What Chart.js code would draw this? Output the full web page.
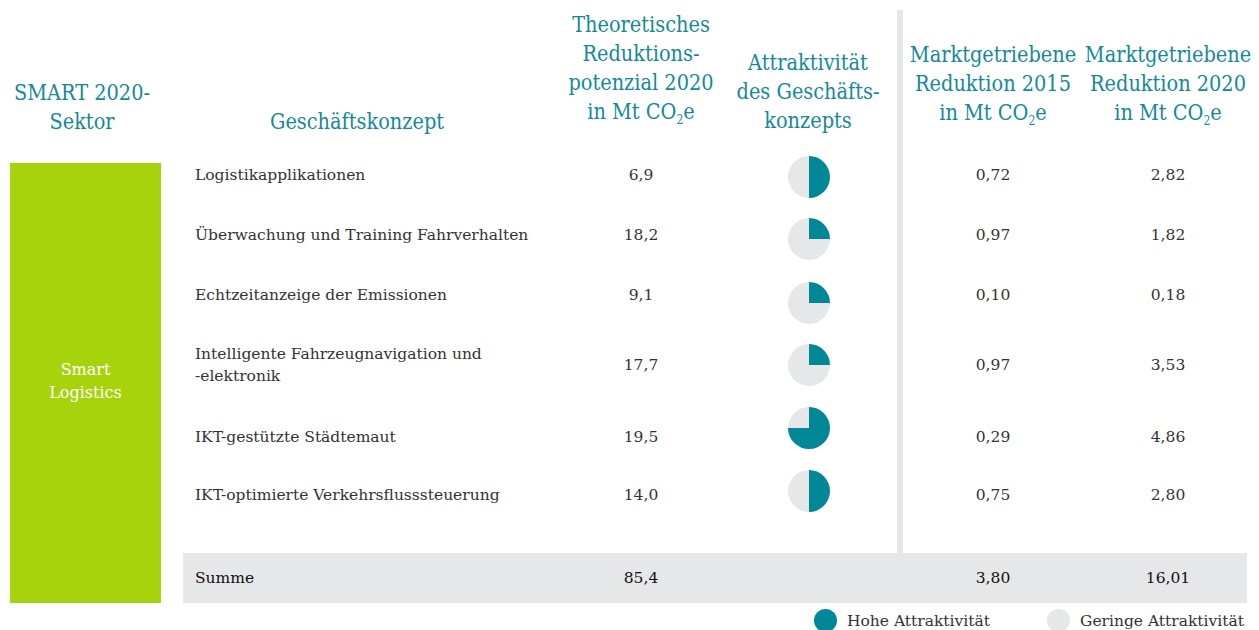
<!DOCTYPE html>
<html lang="de">
<head>
<meta charset="utf-8">
<script src="https://cdn.jsdelivr.net/npm/chart.js@4/dist/chart.umd.min.js"></script>
<style>
  html, body { margin: 0; padding: 0; background: #fff; }
  body { width: 1259px; height: 630px; position: relative; overflow: hidden;
         font-family: "DejaVu Serif", serif; color: #333; }
  .abs { position: absolute; }
  .head { color: #14899a; font-family: "DejaVu Serif Condensed", "DejaVu Serif", serif; font-stretch: condensed;
          font-size: 21.5px; line-height: 29px; text-align: center; white-space: nowrap; }
  .head sub { font-size: 12px; vertical-align: -5px; line-height: 0; }
  .cell { font-size: 15.5px; line-height: 22px; white-space: nowrap; }
  .num { text-align: center; width: 120px; transform: translateY(-50%); }
  .sum { color: #111; }
  .pie { width: 42px; height: 42px; }
</style>
</head>
<body>
<div id="root"></div>
<script>
// Daten
const sektor = 'Smart Logistics';
const konzepte = [
  'Logistikapplikationen',
  'Überwachung und Training Fahrverhalten',
  'Echtzeitanzeige der Emissionen',
  'Intelligente Fahrzeugnavigation und<br>-elektronik',
  'IKT-gestützte Städtemaut',
  'IKT-optimierte Verkehrsflusssteuerung'
];
const potenzial2020 = [6.9, 18.2, 9.1, 17.7, 19.5, 14.0];
// Attraktivität in Vierteln (hoch / gering)
const attraktivHoch = [2, 1, 1, 1, 3, 2];
const attraktivGering = [2, 3, 3, 3, 1, 2];
const markt2015 = [0.72, 0.97, 0.10, 0.97, 0.29, 0.75];
const markt2020 = [2.82, 1.82, 0.18, 3.53, 4.86, 2.80];

const legendLabels = ['Hohe Attraktivität', 'Geringe Attraktivität'];
const TEAL = '#008896';
const GREY = '#e6e7e9';

const rowY = [175, 235, 295, 365, 437, 495];
const pieY = [177, 239, 303, 365, 428, 491];

const fmt = (v, d) => v.toFixed(d).replace('.', ',');
const sum = a => a.reduce((s, v) => s + v, 0);

const root = document.getElementById('root');
function add(html, style, cls) {
  const d = document.createElement('div');
  d.className = 'abs ' + (cls || '');
  d.style.cssText = style;
  d.innerHTML = html;
  root.appendChild(d);
  return d;
}

// Hintergrund: grüner Sektorbalken, Summenband, Trennlinie
add('', 'left:10px;top:163px;width:151px;height:440px;background:#a7d30d;');
add('', 'left:183px;top:553px;width:1064px;height:50px;background:' + GREY + ';');
add('', 'left:897px;top:10px;width:6px;height:543px;background:' + GREY + ';');

// Kopfzeilen
add('SMART 2020-<br>Sektor', 'left:0px;width:164px;top:78px;', 'head');
add('Geschäftskonzept', 'left:257px;width:200px;top:107px;', 'head');
add('Theoretisches<br>Reduktions-<br>potenzial 2020<br>in Mt CO<sub>2</sub>e', 'left:561px;width:160px;top:10px;', 'head');
add('Attraktivität<br>des Geschäfts-<br>konzepts', 'left:728px;width:160px;top:48px;', 'head');
add('Marktgetriebene<br>Reduktion 2015<br>in Mt CO<sub>2</sub>e', 'left:908px;width:170px;top:40px;', 'head');
add('Marktgetriebene<br>Reduktion 2020<br>in Mt CO<sub>2</sub>e', 'left:1083px;width:170px;top:40px;', 'head');

// Sektorbeschriftung
add(sektor.replace(' ', '<br>'), 'left:10px;width:151px;top:358px;color:#fff;text-align:center;font-size:16px;line-height:23px;', 'cell');

// Zeilen
konzepte.forEach((k, i) => {
  add(k, 'left:195px;top:' + rowY[i] + 'px;transform:translateY(-50%);', 'cell');
  add(fmt(potenzial2020[i], 1), 'left:581px;top:' + rowY[i] + 'px;', 'cell num');
  add(fmt(markt2015[i], 2), 'left:933px;top:' + rowY[i] + 'px;', 'cell num');
  add(fmt(markt2020[i], 2), 'left:1108px;top:' + rowY[i] + 'px;', 'cell num');

  const box = add('<canvas></canvas>', 'left:788px;top:' + (pieY[i] - 21) + 'px;', 'pie');
  new Chart(box.querySelector('canvas'), {
    type: 'pie',
    data: {
      labels: legendLabels,
      datasets: [{
        data: [attraktivHoch[i], attraktivGering[i]],
        backgroundColor: [TEAL, GREY],
        borderWidth: 0
      }]
    },
    options: {
      responsive: true,
      maintainAspectRatio: false,
      animation: false,
      events: [],
      plugins: { legend: { display: false }, tooltip: { enabled: false } }
    }
  });
});

// Summe
add('Summe', 'left:195px;top:578px;transform:translateY(-50%);', 'cell sum');
add(fmt(sum(potenzial2020), 1), 'left:581px;top:578px;', 'cell num sum');
add(fmt(sum(markt2015), 2), 'left:933px;top:578px;', 'cell num sum');
add(fmt(sum(markt2020), 2), 'left:1108px;top:578px;', 'cell num sum');

// Legende
add('', 'left:814px;top:609px;width:23px;height:23px;border-radius:50%;background:' + TEAL + ';');
add(legendLabels[0], 'left:847px;top:621px;transform:translateY(-50%);', 'cell');
add('', 'left:1047px;top:609px;width:23px;height:23px;border-radius:50%;background:' + GREY + ';');
add(legendLabels[1], 'left:1080px;top:621px;transform:translateY(-50%);', 'cell');
</script>
</body>
</html>
